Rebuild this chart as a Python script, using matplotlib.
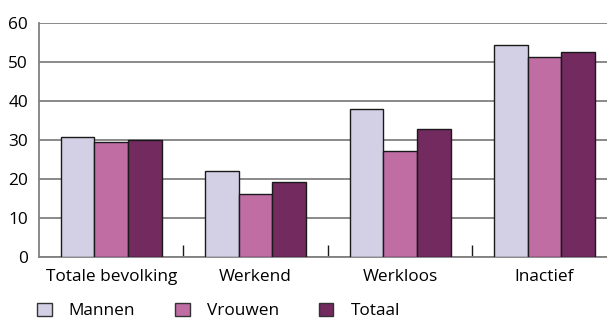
import matplotlib
matplotlib.use("Agg")
import matplotlib.pyplot as plt
import numpy as np

categories = ["Totale bevolking", "Werkend", "Werkloos", "Inactief"]
series_names = ["Mannen", "Vrouwen", "Totaal"]
mannen = [30.6, 22.1, 37.8, 54.2]
vrouwen = [29.3, 16.0, 27.0, 51.2]
totaal = [30.0, 19.1, 32.8, 52.5]
yticks = [0, 10, 20, 30, 40, 50, 60]

colors = ["#D3D0E5", "#BF6DA3", "#722A5F"]

plt.rcParams["font.family"] = ["Open Sans", "DejaVu Sans"]
FS = 12.4

W, H = 607, 320
fig = plt.figure(figsize=(W / 100, H / 100), dpi=100)
# axes box in pixels: left 39, right ~617 (runs past the figure edge), bottom 256.7, top 22.7
left, right, bottom, top = 39, 616.7, 256.7, 22.7
ax = fig.add_axes([left / W, (H - bottom) / H, (right - left) / W, (bottom - top) / H])

x = np.arange(len(categories))
bw = 0.233
values = [mannen, vrouwen, totaal]
for i, (name, vals) in enumerate(zip(series_names, values)):
    ax.bar(x + (i - 1) * bw, vals, bw, color=colors[i], edgecolor="#1a1a1a",
           linewidth=1.0, label=name, zorder=3)

ax.set_xlim(-0.5, len(categories) - 0.5)
ax.set_ylim(0, 60)
ax.set_yticks(yticks)
ax.set_yticklabels([str(v) for v in yticks], fontsize=FS)
ax.tick_params(axis="y", length=0, pad=8)
ax.yaxis.grid(True, color="#808080", linewidth=1.3, zorder=0)
ax.set_axisbelow(True)

# category labels centred under each group, boundary ticks between groups
ax.set_xticks(x)
ax.set_xticklabels(categories, fontsize=FS)
ax.tick_params(axis="x", which="major", length=0, pad=9)
ax.set_xticks(np.arange(0.5, len(categories) - 1, 1.0), minor=True)
ax.tick_params(axis="x", which="minor", direction="in", length=9,
               width=1.0, color="#1a1a1a")

for s in ["top", "right"]:
    ax.spines[s].set_visible(False)
for s in ["left", "bottom"]:
    ax.spines[s].set_color("#808080")
    ax.spines[s].set_linewidth(1.3)

handles, labels = ax.get_legend_handles_labels()
leg = fig.legend(handles, labels, loc="center left",
                 bbox_to_anchor=(37 / W, (H - 311) / H), ncol=3, frameon=False,
                 fontsize=FS, handlelength=0.85, handleheight=0.85,
                 handletextpad=1.0, columnspacing=2.3, borderpad=0,
                 borderaxespad=0)
for p in leg.get_patches():
    p.set_edgecolor("#333333")
    p.set_linewidth(1.0)

fig.savefig("out.png", dpi=100)
